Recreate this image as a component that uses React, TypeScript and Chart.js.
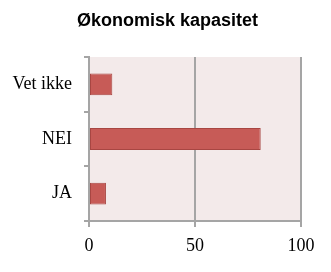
import React, { useEffect, useRef } from "react";
import { Chart, registerables } from "chart.js";

Chart.register(...registerables);

const categories = ["Vet ikke", "NEI", "JA"];
const values = [11, 81, 8];
const xTicks = [0, 50, 100];
const titleText = "Økonomisk kapasitet";

const bgPlugin = {
  id: "plotBg",
  beforeDraw(chart: any) {
    const { ctx, chartArea } = chart;
    ctx.save();
    ctx.fillStyle = "#f3eaea";
    ctx.fillRect(chartArea.left, chartArea.top, chartArea.right - chartArea.left, chartArea.bottom - chartArea.top);
    ctx.restore();
  },
};

const titlePlugin = {
  id: "centerTitle",
  afterDraw(chart: any) {
    const { ctx } = chart;
    ctx.save();
    ctx.fillStyle = "#000";
    ctx.font = "bold 18px 'Liberation Sans', Arial, sans-serif";
    ctx.textAlign = "center";
    ctx.textBaseline = "middle";
    ctx.fillText(titleText, 167.5, 21);
    ctx.restore();
  },
};

const serif = "'Liberation Serif', 'Times New Roman', serif";

export default function App() {
  const ref = useRef<HTMLCanvasElement | null>(null);
  useEffect(() => {
    document.body.style.margin = "0";
    const chart = new Chart(ref.current!, {
      type: "bar",
      data: {
        labels: categories,
        datasets: [
          {
            data: values,
            backgroundColor: "#c75b57",
            borderColor: "#a84642",
            borderWidth: 1,
            borderSkipped: false,
            barPercentage: 0.4,
            categoryPercentage: 1,
          },
        ],
      },
      plugins: [bgPlugin, titlePlugin],
      options: {
        indexAxis: "y",
        animation: false,
        responsive: false,
        maintainAspectRatio: false,
        layout: { padding: { left: 0, right: 30, top: 57, bottom: 0 } },
        plugins: {
          legend: { display: false },
          tooltip: { enabled: false },
          title: { display: false },
        },
        scales: {
          x: {
            min: 0,
            max: 100,
            afterBuildTicks(scale: any) {
              scale.ticks = xTicks.map((v) => ({ value: v }));
            },
            afterFit(scale: any) {
              scale.height = 51;
            },
            grid: {
              color: "#a5a5a5",
              lineWidth: 2,
              drawOnChartArea: true,
              drawTicks: true,
              tickLength: 6,
              tickColor: "#a5a5a5",
            },
            border: { display: true, color: "#a5a5a5", width: 2 },
            ticks: {
              color: "#000",
              font: { family: serif, size: 18 },
              padding: 8,
              maxRotation: 0,
            },
          },
          y: {
            afterFit(scale: any) {
              scale.width = 89;
            },
            grid: {
              offset: true,
              drawOnChartArea: false,
              drawTicks: true,
              tickLength: 5,
              color: "#a5a5a5",
              lineWidth: 2,
            },
            border: { display: true, color: "#a5a5a5", width: 2 },
            ticks: {
              color: "#000",
              font: { family: serif, size: 18 },
              padding: 12,
            },
          },
        },
      } as any,
    });
    return () => chart.destroy();
  }, []);
  return (
    <div style={{ width: 331, height: 272, background: "#fff" }}>
      <canvas ref={ref} width={331} height={272} style={{ display: "block" }} />
    </div>
  );
}
